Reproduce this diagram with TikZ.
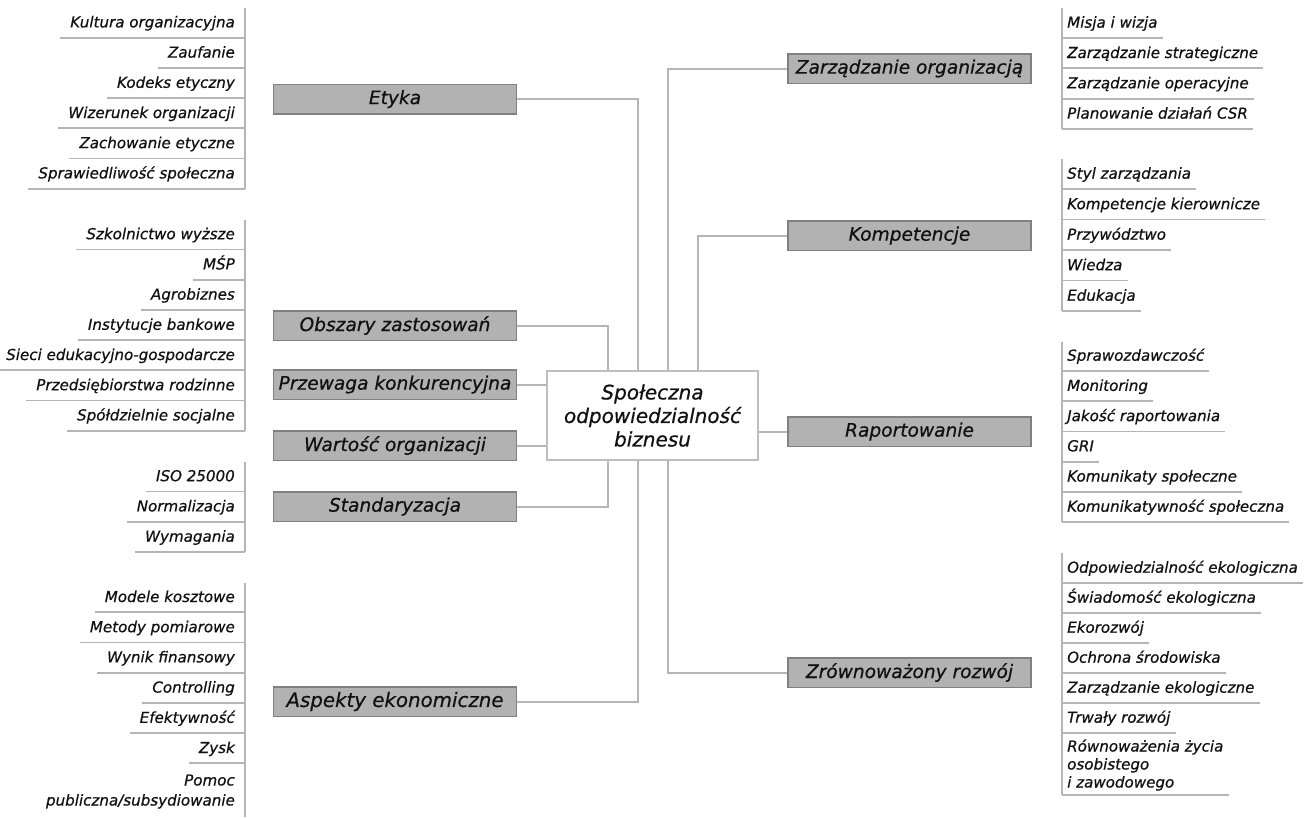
\documentclass[tikz,border=0pt]{standalone}
\usepackage{fontspec}
\setmainfont{DejaVu Sans}[ItalicFeatures={FakeBold=0.6}]
\definecolor{boxfill}{HTML}{B2B2B2}
\definecolor{boxline}{HTML}{808080}
\definecolor{linec}{HTML}{B5B5B5}
\definecolor{cline}{HTML}{BEBEBE}
\definecolor{txt}{HTML}{111111}
\begin{document}
\begin{tikzpicture}[x=1pt,y=-1pt,
  cat/.style={draw=boxline, fill=boxfill, line width=1.5pt, minimum width=243pt,
    minimum height=29.5pt, inner sep=0pt, text=txt,
    font=\fontsize{18.6}{22}\selectfont\itshape},
  central/.style={draw=cline, fill=white, line width=2pt, minimum width=211pt,
    minimum height=89pt, inner sep=0pt, align=center, text=txt,
    font=\fontsize{20}{23.5}\selectfont\itshape},
  conn/.style={draw=linec, line width=2pt},
  uline/.style={draw=linec, line width=1.8pt},
  litem/.style={inner xsep=10pt, inner ysep=0pt, text=txt,
    font=\fontsize{15.1}{17.5}\selectfont\itshape},
  ritem/.style={inner xsep=5pt, inner ysep=0pt, text=txt,
    font=\fontsize{15.1}{17.5}\selectfont\itshape}]
\useasboundingbox (0,0) rectangle (1311,817);

% central node
\node[central] (csr) at (652.5,415.5) {Społeczna\\odpowiedzialność\\biznesu};

% category boxes
\node[cat] (etyka) at (395,99) {Etyka};
\node[cat] (obsz) at (395,325.5) {Obszary zastosowań};
\node[cat] (przew) at (395,384.5) {Przewaga konkurencyjna};
\node[cat] (wart) at (395,445.5) {Wartość organizacji};
\node[cat] (stand) at (395,506.5) {Standaryzacja};
\node[cat, font=\fontsize{19.8}{23}\selectfont\itshape] (asp) at (395,701.5) {Aspekty ekonomiczne};
\node[cat] (zarz) at (909.5,68.5) {Zarządzanie organizacją};
\node[cat] (komp) at (909.5,235.5) {Kompetencje};
\node[cat] (rap) at (909.5,431.5) {Raportowanie};
\node[cat] (zrow) at (909.5,672.5) {Zrównoważony rozwój};

% connectors
\draw[conn] (etyka.east) -| ([xshift=-15pt]csr.north);
\draw[conn] (obsz.east) -| ([xshift=-45pt]csr.north);
\draw[conn] (przew.east) -- (przew.east -| csr.west);
\draw[conn] (wart.east) -- (wart.east -| csr.west);
\draw[conn] (stand.east) -| ([xshift=-45pt]csr.south);
\draw[conn] (asp.east) -| ([xshift=-15pt]csr.south);
\draw[conn] (zarz.west) -| ([xshift=15pt]csr.north);
\draw[conn] (komp.west) -| ([xshift=45pt]csr.north);
\draw[conn] (rap.west) -- (rap.west -| csr.east);
\draw[conn] (zrow.west) -| ([xshift=15pt]csr.south);

% ---------- left groups ----------
\foreach \t/\u [count=\i] in {Kultura organizacyjna/37.7, Zaufanie/67.9,
  Kodeks etyczny/98.1, Wizerunek organizacji/128.3, Zachowanie etyczne/158.5,
  Sprawiedliwość społeczna/188.7}{
  \node[litem, anchor=base east] (ea\i) at (245,\u-10.3) {\t};
  \draw[uline] ([yshift=-10.3pt]ea\i.base west) -- ([yshift=-10.3pt]ea\i.base east);
}
\coordinate (eatop) at (245,8);
\draw[uline] (eatop) -- ([yshift=-10.3pt]ea6.base east);

\foreach \t/\u [count=\i] in {Szkolnictwo wyższe/249.5, MŚP/279.7,
  Agrobiznes/309.9, Instytucje bankowe/340.1, Sieci edukacyjno-gospodarcze/370.3,
  Przedsiębiorstwa rodzinne/400.5, Spółdzielnie socjalne/430.7}{
  \node[litem, anchor=base east] (eb\i) at (245,\u-10.3) {\t};
  \draw[uline] ([yshift=-10.3pt]eb\i.base west) -- ([yshift=-10.3pt]eb\i.base east);
}
\coordinate (ebtop) at (245,220);
\draw[uline] (ebtop) -- ([yshift=-10.3pt]eb7.base east);

\foreach \t/\u [count=\i] in {ISO 25000/491.5, Normalizacja/521.7, Wymagania/552}{
  \node[litem, anchor=base east] (ec\i) at (245,\u-10.3) {\t};
  \draw[uline] ([yshift=-10.3pt]ec\i.base west) -- ([yshift=-10.3pt]ec\i.base east);
}
\coordinate (ectop) at (245,462);
\draw[uline] (ectop) -- ([yshift=-10.3pt]ec3.base east);

\foreach \t/\u [count=\i] in {Modele kosztowe/612.3, Metody pomiarowe/642.5,
  Wynik finansowy/672.7, Controlling/702.9, Efektywność/733.1, Zysk/763.3}{
  \node[litem, anchor=base east] (ed\i) at (245,\u-10.3) {\t};
  \draw[uline] ([yshift=-10.3pt]ed\i.base west) -- ([yshift=-10.3pt]ed\i.base east);
}
\node[litem, anchor=base east, align=right, font=\fontsize{15.1}{20}\selectfont\itshape] (ed7) at (245,805.5) {Pomoc\\publiczna/subsydiowanie};
\coordinate (edtop) at (245,583);
\coordinate (edbot) at (245,817);
\draw[uline] (edtop) -- (edbot);

% ---------- right groups ----------
\foreach \t/\u [count=\i] in {Misja i wizja/38, Zarządzanie strategiczne/68.3,
  Zarządzanie operacyjne/98.6, Planowanie działań CSR/128.9}{
  \node[ritem, anchor=base west] (ra\i) at (1062,\u-10.3) {\t};
  \draw[uline] ([yshift=-10.3pt]ra\i.base west) -- ([yshift=-10.3pt]ra\i.base east);
}
\coordinate (ratop) at (1062,8);
\draw[uline] (ratop) -- ([yshift=-10.3pt]ra4.base west);

\foreach \t/\u [count=\i] in {Styl zarządzania/189, Kompetencje kierownicze/219.5,
  Przywództwo/250, Wiedza/280.5, Edukacja/311}{
  \node[ritem, anchor=base west] (rb\i) at (1062,\u-10.3) {\t};
  \draw[uline] ([yshift=-10.3pt]rb\i.base west) -- ([yshift=-10.3pt]rb\i.base east);
}
\coordinate (rbtop) at (1062,159);
\draw[uline] (rbtop) -- ([yshift=-10.3pt]rb5.base west);

\foreach \t/\u [count=\i] in {Sprawozdawczość/371, Monitoring/401.2,
  Jakość raportowania/431.4, GRI/461.6, Komunikaty społeczne/491.8,
  Komunikatywność społeczna/522}{
  \node[ritem, anchor=base west] (rc\i) at (1062,\u-10.3) {\t};
  \draw[uline] ([yshift=-10.3pt]rc\i.base west) -- ([yshift=-10.3pt]rc\i.base east);
}
\coordinate (rctop) at (1062,342);
\draw[uline] (rctop) -- ([yshift=-10.3pt]rc6.base west);

\foreach \t/\u [count=\i] in {Odpowiedzialność ekologiczna/583, Świadomość ekologiczna/613,
  Ekorozwój/643, Ochrona środowiska/673, Zarządzanie ekologiczne/703,
  Trwały rozwój/733}{
  \node[ritem, anchor=base west] (rd\i) at (1062,\u-10.3) {\t};
  \draw[uline] ([yshift=-10.3pt]rd\i.base west) -- ([yshift=-10.3pt]rd\i.base east);
}
\node[ritem, anchor=base west, align=left, font=\fontsize{15.1}{18}\selectfont\itshape] (rd7) at (1062,787.5) {Równoważenia życia\\osobistego\\i zawodowego};
\coordinate (rdbot) at (1062,795);
\draw[uline] (rdbot) -- (rdbot -| rd7.east);
\coordinate (rdtop) at (1062,553);
\draw[uline] (rdtop) -- (rdbot);
\end{tikzpicture}
\end{document}
